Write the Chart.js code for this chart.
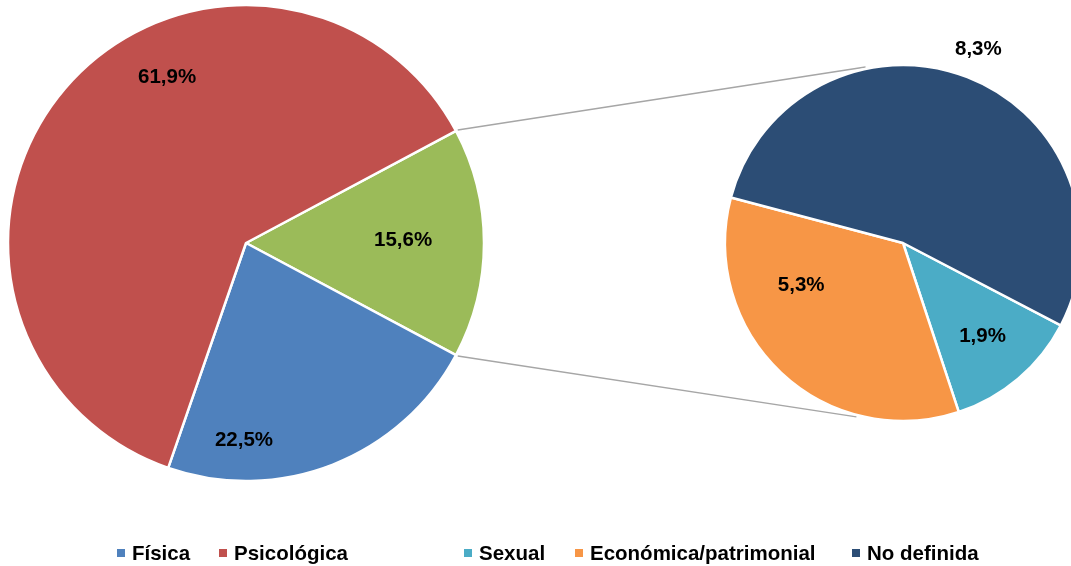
<!DOCTYPE html>
<html>
<head>
<meta charset="utf-8">
<script src="https://cdn.jsdelivr.net/npm/chart.js@4"></script>
<style>
  html, body { margin: 0; padding: 0; background: #fff; overflow: hidden; }
  #wrap { position: relative; width: 1071px; height: 566px; }
  canvas { position: absolute; left: 0; top: 0; }
  #legend { position: absolute; left: 0; top: 541px; width: 1071px; height: 24px;
            font: bold 20.5px "Liberation Sans", Arial, sans-serif; color: #000; }
  .item { position: absolute; top: 0; white-space: nowrap; line-height: 24px; }
  .box { display: inline-block; width: 8px; height: 8px; margin-right: 7px;
         vertical-align: middle; position: relative; top: -2px; }
</style>
</head>
<body>
<div id="wrap">
  <canvas id="mainPie" width="1071" height="566"></canvas>
  <canvas id="subPie" width="1071" height="566"></canvas>
  <div id="legend"></div>
</div>
<script>
// data
const mainLabels = ["Otros", "Física", "Psicológica"];
const mainValues = [15.6, 22.5, 61.9];
const mainColors = ["#9BBB59", "#4F81BD", "#C0504D"];

const subLabels = ["Sexual", "Económica/patrimonial", "No definida"];
const subValues = [1.9, 5.3, 8.3];
const subColors = ["#4BACC6", "#F79646", "#2C4D75"];

const legendLabels = ["Física", "Psicológica", "Sexual", "Económica/patrimonial", "No definida"];
const legendColors = ["#4F81BD", "#C0504D", "#4BACC6", "#F79646", "#2C4D75"];
const legendX = [117, 219, 464, 575, 852];

function fmt(v) {
  return v.toFixed(1).replace(".", ",") + "%";
}

// [angle shift from slice middle (deg), radius fraction]
const mainPlace = [[-1, 0.66], [22, 0.83], [24, 0.77]];
const subPlace = [[0, 0.69], [24, 0.62], [0, 1.17]];

const pctLabels = {
  id: "pctLabels",
  afterDatasetsDraw(chart, args, opts) {
    const ctx = chart.ctx;
    const meta = chart.getDatasetMeta(0);
    const vals = chart.data.datasets[0].data;
    ctx.save();
    ctx.font = 'bold 20.5px "Liberation Sans", Arial, sans-serif';
    ctx.fillStyle = "#000";
    ctx.textAlign = "center";
    ctx.textBaseline = "middle";
    meta.data.forEach((arc, i) => {
      const p = opts.place[i];
      const a = (arc.startAngle + arc.endAngle) / 2 + p[0] * Math.PI / 180;
      const r = arc.outerRadius * p[1];
      ctx.fillText(fmt(vals[i]), arc.x + Math.cos(a) * r, arc.y + Math.sin(a) * r);
    });
    ctx.restore();
  }
};

let mainChart;

// grey lines from the "Otros" slice to the second pie
const connectors = {
  id: "connectors",
  beforeDatasetsDraw(chart) {
    if (!mainChart) return;
    const g = mainChart.getDatasetMeta(0).data[0];
    const s = chart.getDatasetMeta(0).data[0];
    const ctx = chart.ctx;
    const r1 = g.outerRadius + 2, r2 = s.outerRadius + 2;
    const t1 = -102 * Math.PI / 180, t2 = 105 * Math.PI / 180;
    ctx.save();
    ctx.strokeStyle = "#A6A6A6";
    ctx.lineWidth = 1.5;
    ctx.beginPath();
    ctx.moveTo(g.x + Math.cos(g.startAngle) * r1, g.y + Math.sin(g.startAngle) * r1);
    ctx.lineTo(s.x + Math.cos(t1) * r2, s.y + Math.sin(t1) * r2);
    ctx.moveTo(g.x + Math.cos(g.endAngle) * r1, g.y + Math.sin(g.endAngle) * r1);
    ctx.lineTo(s.x + Math.cos(t2) * r2, s.y + Math.sin(t2) * r2);
    ctx.stroke();
    ctx.restore();
  }
};

const mainTotal = mainValues.reduce((a, b) => a + b, 0);

mainChart = new Chart(document.getElementById("mainPie"), {
  type: "pie",
  data: {
    labels: mainLabels,
    datasets: [{
      data: mainValues,
      backgroundColor: mainColors,
      borderColor: "#fff",
      borderWidth: 2.5,
      hoverOffset: 0,
      clip: false
    }]
  },
  options: {
    responsive: false,
    animation: false,
    events: [],
    radius: 238,
    rotation: 90 - mainValues[0] / mainTotal * 180,
    layout: { padding: { left: 8, top: 5, right: 587, bottom: 85 } },
    plugins: {
      legend: { display: false },
      tooltip: { enabled: false },
      pctLabels: { place: mainPlace }
    }
  },
  plugins: [pctLabels]
});

new Chart(document.getElementById("subPie"), {
  type: "pie",
  data: {
    labels: subLabels,
    datasets: [{
      data: subValues,
      backgroundColor: subColors,
      borderColor: "#fff",
      borderWidth: 2.5,
      hoverOffset: 0,
      clip: false
    }]
  },
  options: {
    responsive: false,
    animation: false,
    events: [],
    radius: 178,
    rotation: 117.6,
    // area narrower than the pie so its centre sits at x 903 and the right edge runs off the page
    layout: { padding: { left: 735, top: 65, right: 0, bottom: 145 } },
    plugins: {
      legend: { display: false },
      tooltip: { enabled: false },
      pctLabels: { place: subPlace }
    }
  },
  plugins: [connectors, pctLabels]
});

// legend
const legend = document.getElementById("legend");
legendLabels.forEach((lab, i) => {
  const it = document.createElement("div");
  it.className = "item";
  it.style.left = legendX[i] + "px";
  const b = document.createElement("span");
  b.className = "box";
  b.style.background = legendColors[i];
  it.appendChild(b);
  it.appendChild(document.createTextNode(lab));
  legend.appendChild(it);
});
</script>
</body>
</html>
